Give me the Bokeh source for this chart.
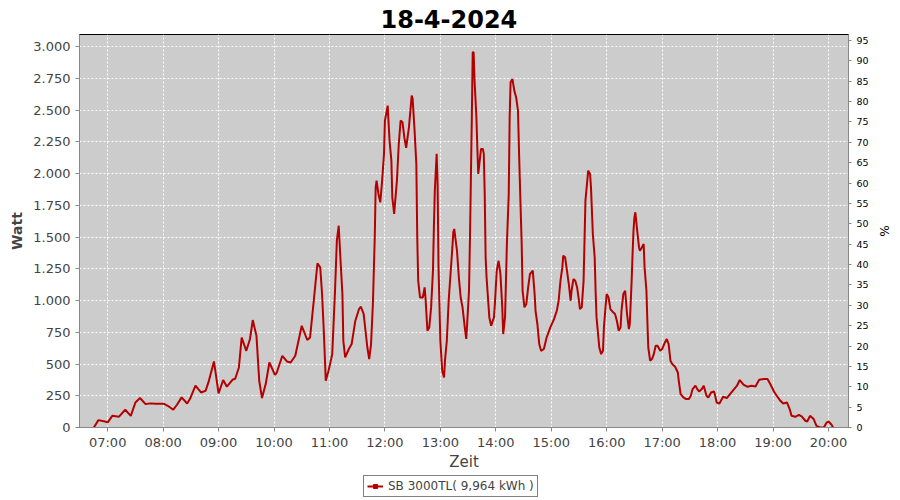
import pandas as pd
from bokeh.plotting import figure
from bokeh.layouts import column
from bokeh.models import (Range1d, LinearAxis, FixedTicker, DatetimeTickFormatter,
                          Legend, LegendItem, ColumnDataSource)
from bokeh.embed import file_html
from bokeh.resources import INLINE

DATE = "2024-04-18"
TITLE = "18-4-2024"
SERIES_NAME = "SB 3000TL( 9,964 kWh )"

times = ["06:45","06:50","06:57","07:00","07:05","07:12","07:19","07:25","07:30","07:35",
         "07:41","07:46","07:52","08:01","08:05","08:11","08:15","08:20","08:26","08:29",
         "08:35","08:41","08:46","08:49","08:55","09:00","09:05","09:09","09:15","09:18",
         "09:22","09:25","09:30","09:34","09:37","09:41","09:44","09:47","09:51","09:55",
         "10:01","10:03","10:09","10:14","10:18","10:23","10:30","10:36","10:39","10:43",
         "10:47","10:50","10:52","10:54","10:56","10:59","11:03","11:06","11:08","11:10",
         "11:12","11:14","11:15","11:17","11:21","11:24","11:28","11:32","11:34","11:37",
         "11:39","11:41","11:43","11:45","11:47","11:49","11:50","11:51","11:53","11:55",
         "11:57","11:59","12:00","12:03","12:05","12:07","12:08","12:10","12:13","12:15",
         "12:17","12:19","12:21","12:23","12:26","12:29","12:30","12:32","12:34","12:35",
         "12:36","12:38","12:41","12:43","12:44","12:46","12:48","12:50","12:52","12:53",
         "12:54","12:56","12:57","12:58","13:00","13:02","13:04","13:05","13:07","13:09",
         "13:11","13:13","13:14","13:15","13:18","13:20","13:22","13:24","13:26","13:28",
         "13:29","13:31","13:32","13:33","13:34","13:35","13:36","13:37","13:39","13:40",
         "13:41","13:42","13:44","13:46","13:47","13:48","13:49","13:50","13:52","13:53",
         "13:55","13:58","13:59","14:01","14:03","14:05","14:07","14:08","14:10","14:12",
         "14:14","14:15","14:16","14:18","14:20","14:22","14:24","14:25","14:26","14:28",
         "14:29","14:31","14:33","14:35","14:37","14:40","14:42","14:43","14:45","14:47",
         "14:49","14:52","14:55","14:59","15:03","15:06","15:08","15:10","15:12","15:13",
         "15:15","15:17","15:19","15:21","15:22","15:24","15:26","15:28","15:30","15:31",
         "15:33","15:35","15:36","15:37","15:39","15:40","15:42","15:43","15:44","15:45",
         "15:47","15:48","15:49","15:50","15:52","15:54","15:56","15:57","15:59","16:00",
         "16:02","16:04","16:07","16:09","16:11","16:13","16:15","16:16","16:18","16:20",
         "16:22","16:24","16:25","16:27","16:28","16:29","16:30","16:31","16:33","16:35",
         "16:36","16:38","16:40","16:41","16:43","16:44","16:45","16:47","16:49","16:51",
         "16:53","16:55","16:58","17:00","17:03","17:05","17:07","17:09","17:11","17:14",
         "17:17","17:18","17:20","17:23","17:26","17:29","17:31","17:33","17:36","17:38",
         "17:40","17:43","17:45","17:48","17:50","17:53","17:56","17:57","17:59","18:02",
         "18:06","18:10","18:15","18:21","18:24","18:28","18:32","18:37","18:41","18:45",
         "18:50","18:54","18:57","19:01","19:04","19:08","19:11","19:15","19:18","19:20",
         "19:24","19:28","19:31","19:35","19:37","19:40","19:44","19:47","19:51","19:55",
         "19:58","20:00","20:03","20:05"]

watts = [0,58,47,40,92,84,140,92,197,232,
         184,190,188,187,171,140,179,237,189,224,
         329,276,289,355,520,268,374,321,376,384,
         473,709,604,697,846,723,368,232,342,512,
         415,433,565,520,512,565,801,689,709,998,
         1293,1261,1051,736,368,447,578,1077,1471,1589,
         1313,1051,683,552,618,657,841,933,951,894,
         762,630,539,657,972,1497,1891,1944,1839,1773,
         1944,2155,2417,2535,2259,2102,1813,1682,1944,2233,
         2417,2404,2286,2202,2364,2614,2588,2352,2076,1497,
         1156,1024,1024,1103,1012,762,788,946,1235,1576,
         1865,2155,1918,1261,683,447,394,526,683,998,
         1209,1418,1537,1564,1393,1183,1024,946,815,697,
         815,1077,1471,1944,2417,2955,2955,2732,2443,2207,
         1997,2062,2194,2194,2155,1839,1340,1183,972,867,
         802,867,972,1235,1313,1209,946,736,867,1445,
         1839,2443,2719,2745,2653,2601,2496,2207,1944,1445,
         1077,946,972,1103,1209,1235,1051,919,815,657,
         604,618,709,788,854,919,998,1156,1261,1353,
         1340,1235,1130,998,1077,1169,1156,1103,998,933,
         946,1156,1471,1786,1944,2023,1997,1891,1708,1524,
         1340,1077,867,788,630,578,604,788,972,1051,
         1024,933,907,894,841,762,788,919,1051,1077,
         894,775,815,1156,1366,1550,1655,1695,1550,1418,
         1392,1418,1445,1261,1077,841,630,526,539,578,
         644,644,604,618,670,697,657,526,499,478,
         433,368,263,237,224,224,250,303,329,303,
         284,303,329,250,237,276,284,263,197,189,
         242,232,276,329,374,337,321,329,323,376,
         382,382,342,284,250,210,189,197,145,92,
         84,100,87,53,47,92,66,13,0,0,
         39,47,26,0]

watt_ticks = [0, 250, 500, 750, 1000, 1250, 1500, 1750, 2000, 2250, 2500, 2750, 3000]
watt_labels = ["0", "250", "500", "750", "1.000", "1.250", "1.500", "1.750",
               "2.000", "2.250", "2.500", "2.750", "3.000"]
pct_ticks = [0, 5, 10, 15, 20, 25, 30, 35, 40, 45, 50, 55, 60, 65, 70, 75, 80, 85, 90, 95]
hour_ticks = ["07:00", "08:00", "09:00", "10:00", "11:00", "12:00", "13:00",
              "14:00", "15:00", "16:00", "17:00", "18:00", "19:00", "20:00"]

LINE_COLOR = "#b40000"

x = pd.to_datetime([f"{DATE} {t}" for t in times])
src = ColumnDataSource(dict(x=x, y=watts))

def ms(t):
    return pd.Timestamp(f"{DATE} {t}").value / 1e6

p = figure(width=900, height=474, x_axis_type="datetime",
           x_range=Range1d(ms("06:29:30"), ms("20:21:40")),
           y_range=Range1d(0, 3095),
           output_backend="svg", toolbar_location=None,
           min_border_left=79, min_border_right=52, min_border_top=34, min_border_bottom=47)

p.title.text = TITLE
p.title.align = "left"
p.title.offset = 301
p.title.text_font = "DejaVu Sans"
p.title.text_font_size = "24px"
p.title.text_font_style = "bold"
p.title.text_color = "#000000"
p.title.standoff = 14

p.background_fill_color = "#cccccc"
p.border_fill_color = "#ffffff"
p.outline_line_color = "#000000"
p.outline_line_width = 1

p.xgrid.grid_line_color = "#ffffff"
p.ygrid.grid_line_color = "#ffffff"
p.xgrid.grid_line_dash = "2 2"
p.ygrid.grid_line_dash = "2 2"

p.line("x", "y", source=src, line_color=LINE_COLOR, line_width=2)

# left axis
ya = p.yaxis[0]
ya.ticker = FixedTicker(ticks=watt_ticks)
ya.major_label_overrides = {t: l for t, l in zip(watt_ticks, watt_labels)}
ya.axis_label = "Watt"
ya.axis_label_text_font = "DejaVu Sans"
ya.axis_label_text_font_style = "bold"
ya.axis_label_text_font_size = "14px"
ya.axis_label_text_color = "#444444"
ya.major_label_text_font = "DejaVu Sans"
ya.major_label_text_font_size = "13px"
ya.major_label_text_color = "#444444"
ya.minor_tick_line_color = None
ya.major_tick_in = 0
ya.major_tick_out = 4
ya.axis_line_color = "#888888"
ya.major_tick_line_color = "#888888"

# bottom axis
xa = p.xaxis[0]
xa.ticker = FixedTicker(ticks=[ms(h) for h in hour_ticks])
fmt = "%H:%M"
xa.formatter = DatetimeTickFormatter(hours=fmt, hourmin=fmt, minutes=fmt, minsec=fmt,
                                     seconds=fmt, days=fmt, milliseconds=fmt, microseconds=fmt)
xa.axis_label = "Zeit"
xa.axis_label_text_font = "DejaVu Sans"
xa.axis_label_text_font_style = "normal"
xa.axis_label_text_font_size = "15px"
xa.axis_label_text_color = "#444444"
xa.axis_label_standoff = 0
xa.major_label_standoff = 3
xa.major_label_text_font = "DejaVu Sans"
xa.major_label_text_font_size = "13px"
xa.major_label_text_color = "#444444"
xa.minor_tick_line_color = None
xa.major_tick_in = 0
xa.major_tick_out = 4
xa.axis_line_color = "#888888"
xa.major_tick_line_color = "#888888"

# right axis
p.extra_y_ranges = {"pct": Range1d(0, 96.47)}
ra = LinearAxis(y_range_name="pct", ticker=FixedTicker(ticks=pct_ticks))
ra.axis_label = "%"
ra.axis_label_text_font = "DejaVu Sans"
ra.axis_label_text_font_style = "normal"
ra.axis_label_text_font_size = "12px"
ra.axis_label_text_color = "#000000"
ra.major_label_text_font = "DejaVu Sans"
ra.major_label_text_font_size = "9.5px"
ra.major_label_text_color = "#000000"
ra.minor_tick_line_color = None
ra.major_tick_in = 0
ra.major_tick_out = 3
ra.axis_line_color = "#888888"
ra.major_tick_line_color = "#888888"
p.add_layout(ra, "right")

# legend strip below the chart (series drawn there off-range, only its legend glyph shows)
q = figure(width=900, height=26, x_range=Range1d(0, 1), y_range=Range1d(0, 1),
           output_backend="svg", toolbar_location=None,
           min_border_left=79, min_border_right=52, min_border_top=0, min_border_bottom=0)
q.axis.visible = False
q.grid.visible = False
q.outline_line_color = None
q.background_fill_color = "#ffffff"
q.border_fill_color = "#ffffff"
lr = q.line("x", "y", source=src, line_color=LINE_COLOR, line_width=2)
mk = q.scatter("x", "y", source=src, marker="square", size=4, color=LINE_COLOR)

legend = Legend(items=[LegendItem(label=SERIES_NAME, renderers=[lr, mk])],
                location=(284, 3), orientation="horizontal",
                border_line_color="#000000", border_line_width=1,
                background_fill_color="#ffffff", background_fill_alpha=1.0,
                label_text_font="DejaVu Sans", label_text_font_size="12px",
                label_text_color="#444444", glyph_width=16, glyph_height=10,
                padding=3, margin=0, label_standoff=5, spacing=0,
                label_height=12)
q.add_layout(legend, "center")

layout = column(p, q, spacing=0)
open("out.html", "w").write(file_html(layout, INLINE))
